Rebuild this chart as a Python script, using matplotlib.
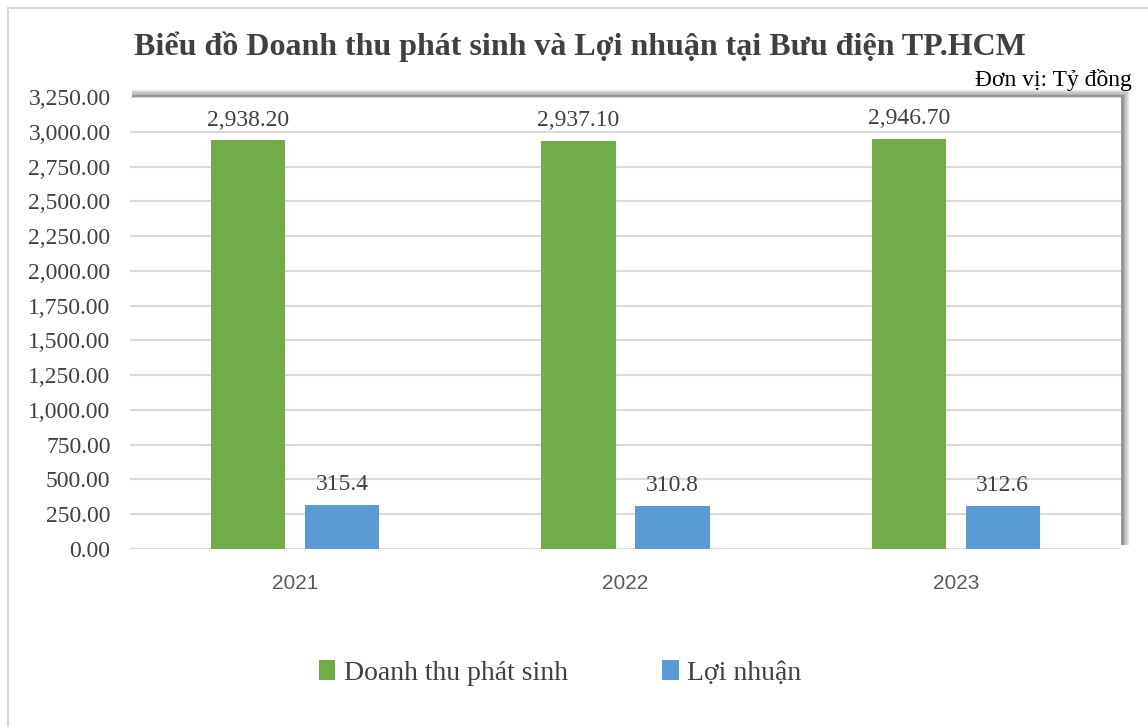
import numpy as np
import matplotlib
matplotlib.use('Agg')
import matplotlib.pyplot as plt
from matplotlib.patches import Rectangle

years = ['2021', '2022', '2023']
doanh_thu = [2938.20, 2937.10, 2946.70]
loi_nhuan = [315.4, 310.8, 312.6]
dt_labels = ['2,938.20', '2,937.10', '2,946.70']
ln_labels = ['315.4', '310.8', '312.6']
yticks = np.arange(0, 3251, 250)

serif = ['Liberation Serif', 'DejaVu Serif']
green = '#70AD47'
blue = '#5B9BD5'
gray_txt = '#404040'

fig = plt.figure(figsize=(11.48, 7.27), dpi=100)

# outer chart border (only left and top visible in the crop)
fig.patches.append(Rectangle((8 / 1148, -0.1), 1.2, 1.1 - 8 / 727,
                             transform=fig.transFigure, fill=False,
                             edgecolor='#d9d9d9', linewidth=1.5, zorder=0))

ax_l, ax_b, ax_w, ax_h = 130 / 1148, 1 - 549 / 727, 991 / 1148, 452 / 727

# soft shadow behind the plot area (top and right)
for i, a in enumerate([0.03, 0.05, 0.07, 0.09, 0.11, 0.13]):
    d = (6 - i) * 1.2
    fig.patches.append(Rectangle((ax_l + 2 / 1148, ax_b + 4 / 727),
                                 ax_w + d / 1148, ax_h + d / 727 - 3 / 727,
                                 transform=fig.transFigure, facecolor='#000000',
                                 alpha=a, edgecolor='none', zorder=0.5))

ax = fig.add_axes([ax_l, ax_b, ax_w, ax_h])
ax.set_facecolor('white')
ax.set_zorder(1)

x = np.arange(len(years))
w = 0.225
off = 0.142
b1 = ax.bar(x - off, doanh_thu, w, color=green, label='Doanh thu phát sinh', zorder=3)
b2 = ax.bar(x + off, loi_nhuan, w, color=blue, label='Lợi nhuận', zorder=3)

for xi, v, t in zip(x - off, doanh_thu, dt_labels):
    ax.text(xi, v + 70, t, ha='center', va='bottom', fontsize=17,
            family=serif, color=gray_txt)
for xi, v, t in zip(x + off, loi_nhuan, ln_labels):
    ax.text(xi, v + 70, t, ha='center', va='bottom', fontsize=17,
            family=serif, color=gray_txt)

ax.set_xlim(-0.5, 2.5)
ax.set_ylim(0, 3250)
ax.set_yticks(yticks)
ax.set_yticklabels([f'{v:,.2f}' for v in yticks], fontsize=17,
                   family=serif, color=gray_txt)
ax.set_xticks(x)
ax.set_xticklabels(years, fontsize=15, family=['Liberation Sans'], color='#595959')
ax.tick_params(axis='both', length=0)
ax.tick_params(axis='y', pad=14)
ax.tick_params(axis='x', pad=18)
ax.grid(axis='y', color='#d9d9d9', linewidth=1.5, zorder=0)
for s in ax.spines.values():
    s.set_visible(False)
ax.axhline(0, color='#d9d9d9', linewidth=1.5, zorder=2)

fig.text(580 / 1148, 1 - 47 / 727, 'Biểu đồ Doanh thu phát sinh và Lợi nhuận tại Bưu điện TP.HCM',
         ha='center', va='center', fontsize=23, fontweight='bold',
         family=serif, color=gray_txt)
fig.text(1132 / 1148, 1 - 80 / 727, 'Đơn vị: Tỷ đồng', ha='right', va='center',
         fontsize=17, family=serif, color='black')

leg = fig.legend(handles=[b1, b2], loc='center', bbox_to_anchor=(560 / 1148, 1 - 673 / 727),
                 ncol=2, frameon=False, prop={'family': serif, 'size': 20},
                 handlelength=0.6, handleheight=0.7, columnspacing=3.4,
                 handletextpad=0.3)
for t in leg.get_texts():
    t.set_color(gray_txt)

fig.savefig('out.png', dpi=100)
